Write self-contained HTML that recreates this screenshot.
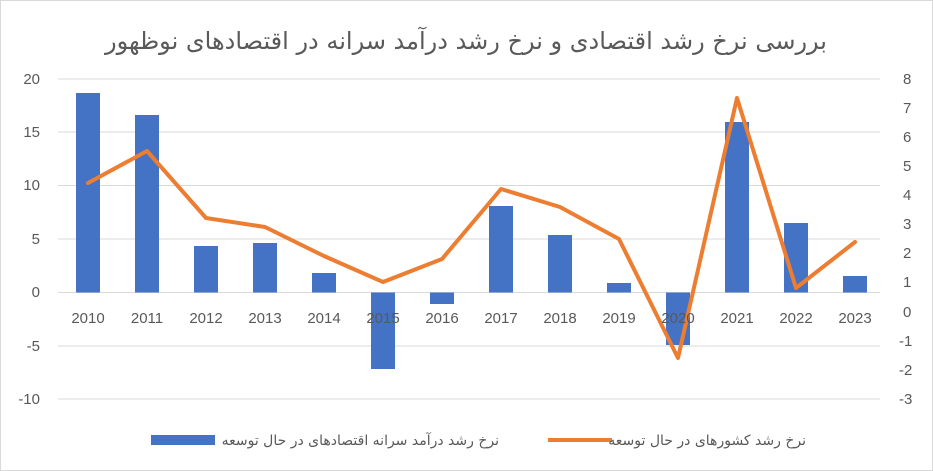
<!DOCTYPE html>
<html><head><meta charset="utf-8"><style>
body{margin:0;background:#fff;}
svg{display:block;}
text{font-family:"Liberation Sans","DejaVu Sans",sans-serif;fill:#595959;}
</style></head><body>
<svg width="933" height="471" viewBox="0 0 933 471" xmlns="http://www.w3.org/2000/svg">
<rect x="0.5" y="0.5" width="932" height="470" fill="#fff" stroke="#d9d9d9"/>
<text x="466" y="49" text-anchor="middle" font-size="24" style="font-family:'DejaVu Sans',sans-serif" fill="#404040">بررسی نرخ رشد اقتصادی و نرخ رشد درآمد سرانه در اقتصادهای نوظهور</text>
<g stroke="#d9d9d9" stroke-width="1">
<line x1="58" x2="880" y1="79" y2="79"/><line x1="58" x2="880" y1="132" y2="132"/>
<line x1="58" x2="880" y1="185.5" y2="185.5"/><line x1="58" x2="880" y1="239" y2="239"/>
<line x1="58" x2="880" y1="346" y2="346"/><line x1="58" x2="880" y1="399" y2="399"/>
<line x1="58" x2="880" y1="292.5" y2="292.5"/>
</g>
<g fill="#4472c4">
<rect x="76" y="93" width="24" height="199.5"/>
<rect x="135" y="115" width="24" height="177.5"/>
<rect x="194" y="246" width="24" height="46.5"/>
<rect x="253" y="243" width="24" height="49.5"/>
<rect x="312" y="273" width="24" height="19.5"/>
<rect x="371" y="292.5" width="24" height="76.5"/>
<rect x="430" y="292.5" width="24" height="11.5"/>
<rect x="489" y="206" width="24" height="86.5"/>
<rect x="548" y="235" width="24" height="57.5"/>
<rect x="607" y="283" width="24" height="9.5"/>
<rect x="666" y="292.5" width="24" height="52.5"/>
<rect x="725" y="122" width="24" height="170.5"/>
<rect x="784" y="223" width="24" height="69.5"/>
<rect x="843" y="276" width="24" height="16.5"/>
</g>
<polyline fill="none" stroke="#ed7d31" stroke-width="4" stroke-linejoin="round" stroke-linecap="round"
points="88,183 147,151 206,218 265,227 324,256 383,282 442,259 501,189 560,207 619,239 678,358 737,98 796,288 855,242"/>
<g font-size="15" text-anchor="end">
<text x="40" y="84">20</text><text x="40" y="137">15</text><text x="40" y="190">10</text>
<text x="40" y="244">5</text><text x="40" y="297">0</text><text x="40" y="351">-5</text><text x="40" y="404">-10</text>
</g>
<g font-size="15" text-anchor="start">
<text x="903" y="84">8</text><text x="903" y="113">7</text><text x="903" y="142">6</text><text x="903" y="171">5</text>
<text x="903" y="200">4</text><text x="903" y="229">3</text><text x="903" y="258">2</text><text x="903" y="287">1</text>
<text x="903" y="317">0</text><text x="899" y="346">-1</text><text x="899" y="375">-2</text><text x="899" y="404">-3</text>
</g>
<g font-size="15" text-anchor="middle">
<text x="88" y="323">2010</text><text x="147" y="323">2011</text><text x="206" y="323">2012</text><text x="265" y="323">2013</text>
<text x="324" y="323">2014</text><text x="383" y="323">2015</text><text x="442" y="323">2016</text><text x="501" y="323">2017</text>
<text x="560" y="323">2018</text><text x="619" y="323">2019</text><text x="678" y="323">2020</text><text x="737" y="323">2021</text>
<text x="796" y="323">2022</text><text x="855" y="323">2023</text>
</g>
<rect x="151" y="435" width="64" height="10" fill="#4472c4"/>
<text x="499" y="445" font-size="14" text-anchor="end" style="font-family:'DejaVu Sans',sans-serif">نرخ رشد درآمد سرانه اقتصادهای در حال توسعه</text>
<line x1="548" x2="612" y1="440" y2="440" stroke="#ed7d31" stroke-width="4"/>
<text x="806" y="445" font-size="14" text-anchor="end" style="font-family:'DejaVu Sans',sans-serif">نرخ رشد کشورهای در حال توسعه</text>
</svg>
</body></html>
